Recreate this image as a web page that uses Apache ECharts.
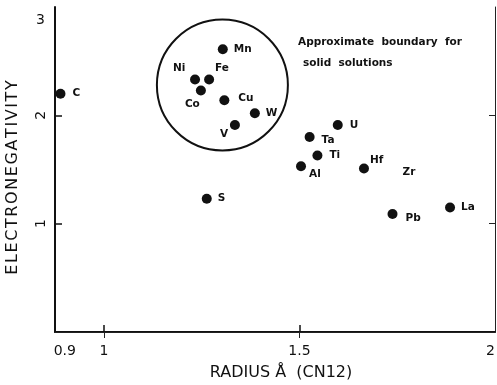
<!DOCTYPE html>
<html>
<head>
<meta charset="utf-8">
<script src="https://cdn.jsdelivr.net/npm/echarts@6/dist/echarts.min.js"></script>
<style>
  html, body { margin: 0; padding: 0; background: #fff; }
  #chart { width: 497px; height: 385px; }
</style>
</head>
<body>
<div id="chart"></div>
<script>
// Elements: metallic radius (CN12, in Å) against electronegativity
const elements = ['C', 'Mn', 'Ni', 'Fe', 'Co', 'Cu', 'V', 'W', 'U', 'Ta', 'Ti', 'Al', 'Hf', 'S', 'Pb', 'La'];
const radius = [0.889, 1.304, 1.233, 1.269, 1.248, 1.308, 1.335, 1.386, 1.598, 1.526, 1.546, 1.504, 1.665, 1.263, 1.738, 1.885];
const electroneg = [2.20, 2.61, 2.33, 2.33, 2.23, 2.14, 1.91, 2.02, 1.91, 1.80, 1.63, 1.53, 1.51, 1.23, 1.09, 1.15];

// Zr is only lettered on the plot, without a dot
const unmarked = ['Zr'];
const unmarkedRadius = [1.78];
const unmarkedElectroneg = [1.47];

// Centre of the approximate solid-solution boundary
const boundaryCentre = [1.303, 2.28];

// Axis tick labels
const xTickLabels = [0.9, 1, 1.5, 2];
const xTicks = [1, 1.5];
const yTickLabels = [1, 2];      // written sideways
const yTopLabel = [3];           // written upright at the top corner
const yTicks = [1, 2];

// Label placement for each element (pixel offsets from the dot)
const labelOffsets = {
  C: [7, 0], Mn: [6, 0], Ni: [-27, -11], Fe: [1, -11], Co: [-21, 14], Cu: [9, -2],
  V: [-20, 9], W: [6, 0], U: [7, 0], Ta: [7, 3], Ti: [7, 0], Al: [3, 8],
  Hf: [1, -8], S: [6, 0], Pb: [8, 4], La: [6, 0]
};

const font = 'DejaVu Sans';
const ink = '#111';

// spread the letters of a title a little
const spaced = s => s.split('').join('\u200A');

const points = elements.map((name, i) => ({
  name: name,
  value: [radius[i], electroneg[i]],
  label: { offset: labelOffsets[name] || [6, 0] }
}));

const chart = echarts.init(document.getElementById('chart'), null, { renderer: 'canvas' });

chart.setOption({
  animation: false,
  backgroundColor: '#fff',
  grid: { left: 55, right: 2, top: 7, bottom: 53, outerBoundsMode: 'none' },
  xAxis: [
    {
      type: 'value', min: 0.875, max: 2, position: 'bottom',
      name: 'RADIUS Å  (CN12)', nameLocation: 'middle', nameGap: 33,
      nameTextStyle: { fontFamily: font, fontSize: 16, color: ink, padding: [0, 0, 0, 12] },
      axisLine: { lineStyle: { color: ink, width: 2 } },
      axisTick: { inside: true, length: 7, customValues: xTicks, lineStyle: { color: ink, width: 1.5 } },
      axisLabel: {
        customValues: xTickLabels, margin: 12, alignMaxLabel: 'right',
        fontFamily: font, fontSize: 14, color: ink,
        formatter: v => String(v)
      },
      splitLine: { show: false }
    },
    {
      type: 'value', min: 0.875, max: 2, position: 'top',
      axisLine: { lineStyle: { color: '#222', width: 1 } },
      axisTick: { inside: true, length: 6, customValues: xTicks, lineStyle: { color: '#222' } },
      axisLabel: { show: false },
      splitLine: { show: false }
    }
  ],
  yAxis: [
    {
      type: 'value', min: 0, max: 3, interval: 1, position: 'left',
      name: spaced('ELECTRONEGATIVITY'), nameLocation: 'middle', nameGap: 34, nameRotate: 90,
      nameTextStyle: { fontFamily: font, fontSize: 16, color: ink, padding: [0, 16, 0, 0] },
      axisLine: { lineStyle: { color: ink, width: 2 } },
      axisTick: { inside: true, length: 7, customValues: yTicks, lineStyle: { color: ink, width: 1.5 } },
      axisLabel: {
        customValues: yTickLabels, rotate: 90, margin: 7,
        fontFamily: font, fontSize: 14, color: ink
      },
      splitLine: { show: false }
    },
    {
      type: 'value', min: 0, max: 3, interval: 1, position: 'right',
      axisLine: { lineStyle: { color: '#222', width: 1 } },
      axisTick: { inside: true, length: 6, customValues: yTicks, lineStyle: { color: '#222' } },
      axisLabel: { show: false },
      splitLine: { show: false }
    },
    {
      type: 'value', min: 0, max: 3, interval: 1, position: 'left',
      axisLine: { show: false },
      axisTick: { show: false },
      axisLabel: {
        customValues: yTopLabel, margin: 10, verticalAlign: 'top', padding: [6, 0, 0, 0],
        fontFamily: font, fontSize: 14, color: ink
      },
      splitLine: { show: false }
    }
  ],
  graphic: [
    {
      type: 'text', left: 298, top: 37,
      style: { text: 'Approximate  boundary  for', fontFamily: font, fontSize: 10.5, fontWeight: 'bold', fill: ink }
    },
    {
      type: 'text', left: 303, top: 58,
      style: { text: 'solid  solutions', fontFamily: font, fontSize: 10.5, fontWeight: 'bold', fill: ink }
    }
  ],
  series: [
    {
      name: 'boundary', type: 'scatter', silent: true, z: 1,
      data: [boundaryCentre],
      symbol: 'circle', symbolSize: 131,
      itemStyle: { color: 'rgba(0,0,0,0)', borderColor: ink, borderWidth: 2, opacity: 1 }
    },
    {
      name: 'elements', type: 'scatter', z: 3,
      data: points,
      symbol: 'circle', symbolSize: 10,
      itemStyle: { color: ink, opacity: 1 },
      label: {
        show: true, position: 'right', distance: 0,
        formatter: p => p.name,
        fontFamily: font, fontSize: 10.5, fontWeight: 'bold', color: ink
      }
    },
    {
      name: 'unmarked', type: 'scatter', z: 3,
      data: unmarked.map((name, i) => ({ name: name, value: [unmarkedRadius[i], unmarkedElectroneg[i]] })),
      symbol: 'circle', symbolSize: 1,
      itemStyle: { color: 'rgba(0,0,0,0)', opacity: 1 },
      label: {
        show: true, position: 'inside',
        formatter: p => p.name,
        fontFamily: font, fontSize: 10.5, fontWeight: 'bold', color: ink
      }
    }
  ]
});
</script>
</body>
</html>
